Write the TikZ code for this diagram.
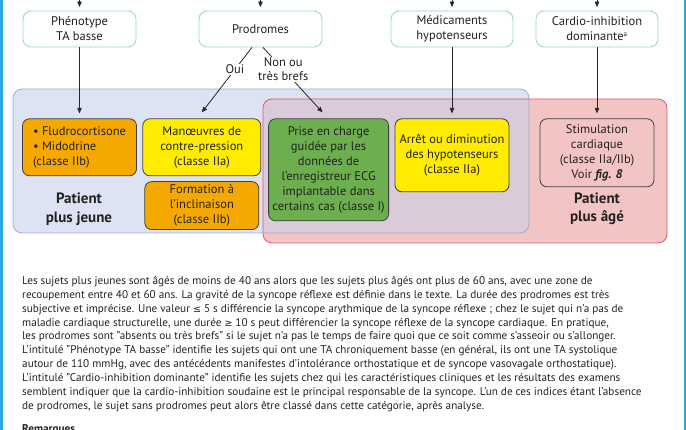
\documentclass[tikz,border=0pt]{standalone}
\usepackage{fontspec}
\setmainfont{PT Sans}
\newfontfamily\symfont{DejaVu Sans}
\usetikzlibrary{positioning, arrows.meta}
\definecolor{regblue}{HTML}{DDE3F3}
\definecolor{regblueline}{HTML}{A4ABCB}
\definecolor{regred}{HTML}{F3C4C4}
\definecolor{regredline}{HTML}{E05A6A}
\definecolor{regmix}{HTML}{D9CBDA}
\definecolor{boxorange}{HTML}{F5A900}
\definecolor{boxyellow}{HTML}{FFEC00}
\definecolor{boxgreen}{HTML}{6DAE4F}
\definecolor{topline}{HTML}{93D3D6}
\definecolor{edgeblue}{HTML}{2AA8E0}
\definecolor{ink}{HTML}{222222}
\tikzset{
>={Triangle[length=5.5pt,width=4.5pt]}, % solid arrow heads
topbox/.style={draw=topline, line width=0.8pt, fill=white, rounded corners=8pt, minimum height=36pt, align=center, font=\fontsize{12.5}{15}\selectfont, text=ink}, % the four entry criteria
careb/.style={draw=black!75, line width=0.8pt, rounded corners=7pt, align=center, font=\fontsize{12.5}{15}\selectfont, text=ink, inner sep=2pt}, % the treatment boxes
agelbl/.style={align=center, font=\fontsize{15}{18.5}\selectfont\bfseries, text=ink}, % younger / older
lbl/.style={fill=white, align=center, inner sep=1pt, font=\fontsize{12.5}{14}\selectfont, text=ink}, % labels on the arrows
flow/.style={->, line width=0.8pt, black!85}, % connectors
}
\begin{document}
\begin{tikzpicture}[x=1pt,y=-1pt]
  \useasboundingbox (0,0) rectangle (686,430);
  \fill[edgeblue] (0,0) rectangle (2.5,430);
  \fill[edgeblue] (683.5,0) rectangle (686,430);
  % the two age groups
  \begin{scope}[rounded corners=9pt]
    \fill[regblue] (13,89) rectangle (529,233);
    \fill[regred] (263,99) rectangle (667,243);
    \begin{scope}
      \clip (13,89) rectangle (529,233);
      \fill[regmix] (263,99) rectangle (667,243);
    \end{scope}
    \draw[regblueline, line width=0.8pt] (13,89) rectangle (529,233);
    \draw[regredline, line width=0.8pt] (263,99) rectangle (667,243);
  \end{scope}

  \node[topbox, minimum width=113pt] (pheno) at (79.5,29) {Phénotype\\TA basse};
  \node[topbox, minimum width=123pt] (prod) at (260.5,29) {Prodromes};
  \node[topbox, minimum width=122pt] (med) at (452,29) {Médicaments\\hypotenseurs};
  \node[topbox, minimum width=122pt] (cardio) at (597,29) {Cardio-inhibition\\dominante\textsuperscript{\scriptsize a}};

  \node[careb, fill=boxorange, minimum width=114pt, minimum height=57pt, align=left, below=71pt of pheno] (fludro) {• Fludrocortisone\\• Midodrine\\(classe IIb)};
  \node[careb, fill=boxyellow, minimum width=118pt, minimum height=57pt, right=5.5pt of fludro] (manoe) {Manœuvres de\\contre-pression\\(classe IIa)};
  \node[careb, fill=boxorange, minimum width=114pt, minimum height=48pt, below=5pt of manoe] (form) {Formation à\\l’inclinaison\\(classe IIb)};
  \node[careb, fill=boxgreen, minimum width=120pt, minimum height=102pt, right=7pt of manoe.north east, anchor=north west] (prise) {Prise en charge\\guidée par les\\données de\\l’enregistreur ECG\\implantable dans\\certains cas (classe I)};
  \node[careb, fill=boxyellow, minimum width=114pt, minimum height=73pt, below=71pt of med] (arret) {Arrêt ou diminution\\des hypotenseurs\\(classe IIa)};
  \node[careb, fill=regred, minimum width=114pt, minimum height=68pt, below=71pt of cardio] (stim) {Stimulation\\cardiaque\\(classe IIa/IIb)\\Voir \textbf{\textit{fig. 8}}};

  \node[agelbl] (jeune) at (79,209) {Patient\\plus jeune};
  \node[agelbl] (age) at (597,209) {Patient\\plus âgé};

  % arrows coming from above
  \foreach \n in {pheno, prod, med, cardio}
    \draw[flow, shorten >=3.5pt] (\n.north) ++(0,-12) coordinate (\n-in) (\n-in) -- (\n);
  \draw[flow, shorten >=5pt] (pheno) -- (fludro);
  \draw[flow, shorten >=5pt] (med) -- (arret);
  \draw[flow, shorten >=5pt] (cardio) -- (stim);
  \draw[flow] ([xshift=-8.5pt]prod.south) -- node[lbl, pos=0.34]{Oui} ([yshift=6pt]manoe.north);
  \draw[flow] ([xshift=2.5pt]prod.south) -- node[lbl, pos=0.34]{Non ou\\très brefs} ([xshift=-6pt,yshift=6pt]prise.north);

  \node[anchor=north west, align=left, inner sep=0pt, text=ink, font=\fontsize{11.2}{13.9}\selectfont] (notes) at (22,276) {%
Les sujets plus jeunes sont âgés de moins de 40 ans alors que les sujets plus âgés ont plus de 60 ans, avec une zone de\\
recoupement entre 40 et 60 ans. La gravité de la syncope réflexe est définie dans le texte. La durée des prodromes est très\\
subjective et imprécise. Une valeur {\symfont\fontsize{9.5}{13.9}\selectfont ≤} 5 s différencie la syncope arythmique de la syncope réflexe ; chez le sujet qui n’a pas de\\
maladie cardiaque structurelle, une durée {\symfont\fontsize{9.5}{13.9}\selectfont ≥} 10 s peut différencier la syncope réflexe de la syncope cardiaque. En pratique,\\
les prodromes sont "absents ou très brefs" si le sujet n’a pas le temps de faire quoi que ce soit comme s’asseoir ou s’allonger.\\
L’intitulé "Phénotype TA basse" identifie les sujets qui ont une TA chroniquement basse (en général, ils ont une TA systolique\\
autour de 110 mmHg, avec des antécédents manifestes d’intolérance orthostatique et de syncope vasovagale orthostatique).\\
L’intitulé "Cardio-inhibition dominante" identifie les sujets chez qui les caractéristiques cliniques et les résultats des examens\\
semblent indiquer que la cardio-inhibition soudaine est le principal responsable de la syncope. L’un de ces indices étant l’absence\\
de prodromes, le sujet sans prodromes peut alors être classé dans cette catégorie, après analyse.};
  \node[anchor=north west, inner sep=0pt, text=ink, font=\fontsize{11.2}{12}\selectfont\bfseries] (rem) at (22,424) {Remarques};
\end{tikzpicture}
\end{document}
